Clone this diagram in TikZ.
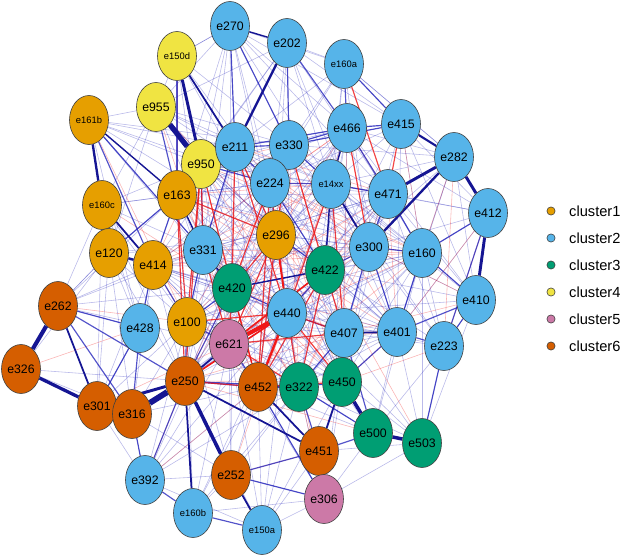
\documentclass[tikz,border=0pt]{standalone}
\usepackage{fontspec}
\setmainfont{Liberation Sans}
\usetikzlibrary{shapes.geometric}
\definecolor{clA}{HTML}{E69F00}
\definecolor{clB}{HTML}{56B4E9}
\definecolor{clC}{HTML}{009E73}
\definecolor{clD}{HTML}{F0E442}
\definecolor{clE}{HTML}{CC79A7}
\definecolor{clF}{HTML}{D55E00}
\definecolor{posc}{HTML}{1A1AB8}
\definecolor{negc}{HTML}{F01818}
\pgfdeclarelayer{edges}
\pgfsetlayers{edges,main}

\begin{document}
\begin{tikzpicture}[x=0.03cm,y=-0.03cm,line cap=round,
  ent/.style={ellipse,draw=black!75,line width=0.5pt,minimum width=1.17cm,minimum height=1.47cm,inner sep=0pt,font=\fontsize{10.5}{12}\selectfont},
  sm/.style={font=\fontsize{8}{10}\selectfont},
  c1/.style={ent,fill=clA},
  c2/.style={ent,fill=clB},
  c3/.style={ent,fill=clC},
  c4/.style={ent,fill=clD},
  c5/.style={ent,fill=clE},
  c6/.style={ent,fill=clF},
  lk/.style={posc,line width=0.5pt,opacity=0.3},
  lkr/.style={negc,line width=0.5pt,opacity=0.32},
  md/.style={posc,line width=1pt,opacity=0.75},
  mdr/.style={negc,line width=1pt,opacity=0.8},
  st/.style={posc!80!black,line width=#1},
  str/.style={negc,line width=#1},
  keydot/.style={circle,draw=black!75,line width=0.5pt,minimum size=7pt,inner sep=0pt},
  keytxt/.style={anchor=west,inner sep=0pt,font=\fontsize{12.5}{14}\selectfont}]
\useasboundingbox (0,0) rectangle (622,557);

% entities
\node[c2] (e270) at (230,26) {e270};
\node[c2] (e202) at (287,43) {e202};
\node[c2,sm] (e160a) at (344,64) {e160a};
\node[c4,sm] (e150d) at (177,56) {e150d};
\node[c4] (e955) at (156,107) {e955};
\node[c1,sm] (e161b) at (89,120) {e161b};
\node[c4] (e950) at (201,164) {e950};
\node[c2] (e211) at (235,147) {e211};
\node[c2] (e330) at (289,145) {e330};
\node[c2] (e466) at (347,128) {e466};
\node[c2] (e415) at (401,124) {e415};
\node[c2] (e282) at (454,157) {e282};
\node[c2] (e224) at (270,183) {e224};
\node[c2,sm] (e14xx) at (331,184) {e14xx};
\node[c2] (e471) at (388,194) {e471};
\node[c1] (e163) at (177,195) {e163};
\node[c1,sm] (e160c) at (102,205) {e160c};
\node[c2] (e412) at (488,213) {e412};
\node[c1] (e296) at (276,235) {e296};
\node[c1] (e120) at (109,253) {e120};
\node[c1] (e414) at (153,265) {e414};
\node[c2] (e331) at (203,250) {e331};
\node[c2] (e300) at (369,247) {e300};
\node[c2] (e160) at (422,253) {e160};
\node[c3] (e422) at (325,270) {e422};
\node[c3] (e420) at (232,288) {e420};
\node[c2] (e440) at (287,313) {e440};
\node[c6] (e262) at (58,306) {e262};
\node[c2] (e428) at (140,328) {e428};
\node[c1] (e100) at (187,322) {e100};
\node[c5] (e621) at (229,344) {e621};
\node[c2] (e407) at (344,333) {e407};
\node[c2] (e401) at (397,332) {e401};
\node[c2] (e410) at (476,300) {e410};
\node[c2] (e223) at (444,346) {e223};
\node[c6] (e326) at (21,369) {e326};
\node[c6] (e301) at (97,406) {e301};
\node[c6] (e316) at (132,414) {e316};
\node[c6] (e250) at (185,381) {e250};
\node[c6] (e452) at (258,387) {e452};
\node[c3] (e322) at (299,387) {e322};
\node[c3] (e450) at (342,382) {e450};
\node[c3] (e500) at (373,433) {e500};
\node[c3] (e503) at (422,443) {e503};
\node[c6] (e451) at (319,451) {e451};
\node[c5] (e306) at (324,499) {e306};
\node[c2] (e392) at (145,480) {e392};
\node[c6] (e252) at (231,475) {e252};
\node[c2,sm] (e160b) at (193,513) {e160b};
\node[c2,sm] (e150a) at (262,530) {e150a};

% legend
\foreach \k/\c in {1/clA,2/clB,3/clC,4/clD,5/clE,6/clF}{
  \node[keydot,fill=\c] (k\k) at (551,184+27*\k) {};
  \node[keytxt] (t\k) at (569,184+27*\k) {cluster\k};
}

\begin{pgfonlayer}{edges}
% dense core
\foreach \a [count=\i] in {e950,e211,e330,e224,e14xx,e163,e296,e331,e422,e420,e440,e100,e621,e407,e452,e322,e450,e300,e466,e471,e250,e414,e401,e160}
  \foreach \b [count=\j] in {e950,e211,e330,e224,e14xx,e163,e296,e331,e422,e420,e440,e100,e621,e407,e452,e322,e450,e300,e466,e471,e250,e414,e401,e160}{
    \ifnum\j>\i
      \pgfmathtruncatemacro\k{mod(\i*5+\j*3,7)}
      \ifnum\k<2 \draw[lkr] (\a) -- (\b); \else \draw[lk] (\a) -- (\b); \fi
    \fi}
% weak ties
\foreach \a/\b in {e270/e211,e270/e224,e270/e330,e270/e163,e270/e950,e270/e14xx,e270/e466,e270/e296,e270/e331,e270/e415,e270/e160a,e270/e955,e270/e150d,e270/e420,e270/e471,
  e202/e160a,e202/e330,e202/e224,e202/e14xx,e202/e415,e202/e471,e202/e950,e202/e955,e202/e163,e202/e296,e202/e300,
  e160a/e330,e160a/e14xx,e160a/e300,e160a/e224,e160a/e211,e160a/e282,e160a/e422,
  e150d/e955,e150d/e224,e150d/e330,e150d/e331,e150d/e270,e150d/e296,
  e955/e161b,e955/e211,e955/e330,e955/e224,e955/e296,e955/e420,e955/e120,e955/e160c,e955/e14xx,
  e161b/e950,e161b/e211,e161b/e330,e161b/e224,e161b/e331,e161b/e120,e161b/e428,e161b/e296,e161b/e420,
  e160c/e950,e160c/e163,e160c/e331,e160c/e100,e160c/e428,e160c/e224,e160c/e262,e160c/e301,e160c/e250,
  e120/e163,e120/e331,e120/e100,e120/e428,e120/e250,e120/e262,e120/e301,e120/e316,e120/e420,e120/e296,e120/e440,
  e414/e428,e414/e262,e414/e316,e414/e301,e414/e621,
  e262/e428,e262/e120,e262/e331,e262/e163,e262/e621,e262/e420,
  e326/e316,e326/e250,e326/e120,
  e301/e428,e301/e100,e301/e392,e316/e392,e316/e100,e316/e621,e316/e252,e316/e452,e316/e440,
  e392/e100,e392/e452,e392/e252,e392/e621,e392/e420,e392/e440,e392/e322,e392/e150a,
  e160b/e252,e160b/e452,e160b/e621,e160b/e100,e160b/e440,e160b/e322,e160b/e306,
  e150a/e452,e150a/e451,e150a/e306,e150a/e322,e150a/e621,e150a/e250,e150a/e440,e150a/e450,
  e252/e452,e252/e322,e252/e621,e252/e100,e252/e420,e252/e306,
  e306/e500,e306/e503,e306/e452,e306/e322,e306/e450,e306/e621,e306/e407,
  e503/e450,e503/e407,e503/e401,e503/e223,e503/e451,e503/e322,e503/e410,e503/e160,e503/e440,
  e500/e322,e500/e401,e500/e223,e500/e160,e500/e440,e500/e452,
  e223/e410,e223/e160,e223/e407,e223/e300,e223/e422,e223/e471,e223/e440,e223/e14xx,
  e410/e160,e410/e471,e410/e300,e410/e14xx,e410/e440,e410/e422,e410/e466,e410/e415,
  e412/e160,e412/e471,e412/e300,e412/e401,e412/e415,e412/e466,e412/e14xx,
  e282/e466,e282/e14xx,e282/e160,e282/e401,e282/e160a,e282/e410,e282/e330,e282/e422,
  e415/e466,e415/e14xx,e415/e300,e415/e160,e415/e330,e415/e224,e415/e422,e415/e160a,e415/e401}
  \draw[lk] (\a) -- (\b);
\foreach \a/\b in {e161b/e100,e955/e331,e282/e223,e412/e223,e392/e250,e250/e500,e252/e440,e306/e440,e503/e422,
  e223/e450,e410/e407,e262/e100,e326/e428,e301/e621,e160c/e420,e150d/e163,e955/e296,e412/e401,e252/e451,
  e282/e160,e415/e160,e410/e300,e306/e322,e392/e452}
  \draw[lkr] (\a) -- (\b);
% medium ties
\foreach \a/\b in {e211/e950,e211/e163,e211/e330,e211/e224,e330/e14xx,e330/e466,e466/e415,e466/e471,e14xx/e471,
  e471/e300,e471/e160,e300/e422,e300/e407,e300/e160,e160/e401,e160/e410,e401/e223,e407/e450,e407/e440,e440/e422,
  e420/e440,e420/e100,e331/e950,e163/e414,e163/e120,e414/e100,e414/e428,e428/e262,e428/e301,e100/e621,e100/e250,
  e621/e452,e452/e322,e322/e450,e322/e451,e451/e306,e452/e250,e250/e392,e392/e316,e301/e316,e250/e420,e252/e451,
  e224/e14xx,e224/e296,e296/e422,e410/e223,e410/e401,e412/e160,e401/e450,e407/e322,e160c/e120,e161b/e414,
  e955/e163,e150d/e163,e270/e211,e270/e330,e202/e330,e202/e466,e160a/e466,e160a/e415,e211/e466,e330/e415,
  e331/e100,e950/e224,e262/e250,e262/e316,e316/e428,e451/e500,e500/e407,e503/e223,e322/e500,e306/e252,
  e160b/e150a,e392/e160b,e452/e306,e161b/e331,e250/e322,e420/e331,e223/e412,e211/e331,e330/e224,e14xx/e300,
  e224/e422,e401/e300}
  \draw[md] (\a) -- (\b);
\foreach \a/\b in {e950/e100,e950/e250,e163/e250,e224/e420,e331/e621,e211/e420,e296/e452,e296/e621,e422/e452,
  e322/e440,e14xx/e407,e330/e422,e163/e296,e422/e407,e407/e401,e440/e450,e440/e407,e100/e440,e224/e440,
  e621/e322,e211/e296,e330/e296,e160a/e471,e420/e621,e250/e452,e163/e100,e950/e331,e224/e452,e621/e407,
  e466/e300,e415/e471,e452/e450,e950/e420,e211/e440,e14xx/e440,e422/e322,e296/e420}
  \draw[mdr] (\a) -- (\b);
% strong ties
\foreach \a/\b/\w in {e955/e950/4.5pt,e150d/e950/2.5pt,e150d/e211/1.5pt,e202/e211/2pt,e270/e202/1.2pt,
  e161b/e160c/2pt,e161b/e163/1.2pt,e262/e326/3.5pt,e326/e301/2.8pt,e262/e301/1.5pt,e316/e250/5pt,
  e301/e250/2.5pt,e250/e252/3pt,e250/e160b/1.5pt,e252/e150a/1.5pt,e282/e471/2.5pt,e282/e300/2pt,
  e282/e412/2.5pt,e412/e410/2.5pt,e415/e282/1.8pt,e500/e503/3pt,e450/e500/3pt,e466/e14xx/1.2pt,
  e14xx/e300/1.5pt,e120/e414/2pt,e160c/e414/1.5pt,e14xx/e422/1.2pt,e452/e451/1.5pt,e250/e451/1.5pt,
  e420/e422/1.2pt,e407/e401/1.5pt,e163/e331/1.2pt,e331/e420/1.2pt,e250/e621/1.5pt,e450/e451/1.5pt}
  \draw[st=\w] (\a) -- (\b);
\foreach \a/\b/\w in {e440/e621/3.5pt,e440/e452/2pt,e296/e440/1.6pt,e621/e422/1.4pt,e250/e440/1.4pt,
  e420/e452/1.2pt}
  \draw[str=\w] (\a) -- (\b);
\end{pgfonlayer}
\end{tikzpicture}
\end{document}
